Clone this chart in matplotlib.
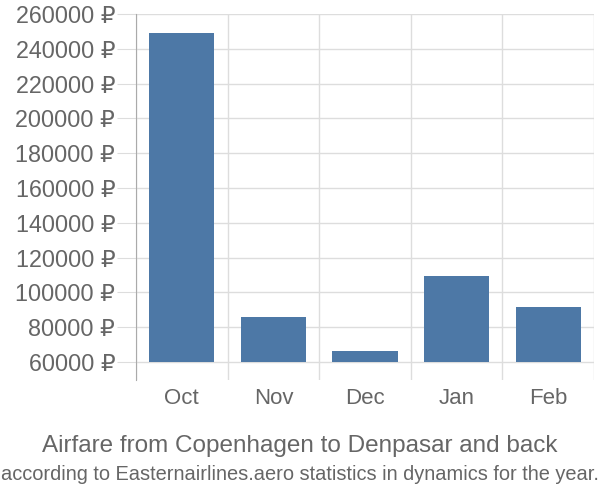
import matplotlib
matplotlib.use("Agg")
import matplotlib.pyplot as plt
from matplotlib.ticker import FixedLocator

plt.rcParams['font.family'] = ['Liberation Sans', 'DejaVu Sans']

months = ["Oct", "Nov", "Dec", "Jan", "Feb"]
prices = [248900, 85700, 66300, 109600, 91800]
yticks = [60000, 80000, 100000, 120000, 140000, 160000, 180000, 200000, 220000, 240000, 260000]
title = "Airfare from Copenhagen to Denpasar and back"
subtitle = "according to Easternairlines.aero statistics in dynamics for the year."

base = 60000
fig = plt.figure(figsize=(6, 5), dpi=100)
ax = fig.add_axes([136/600, 1-380/500, (594-136)/600, (380-14)/500])

x = list(range(len(months)))
ax.bar(x, [p - base for p in prices], bottom=base, width=0.71, color="#4d78a6", zorder=3)

ax.set_xlim(-0.5, len(months) - 0.5)
ax.set_ylim(60000 - 18/0.00174, 260000)

ax.set_yticks(yticks)
ax.set_yticklabels([f"{v} ₽" for v in yticks])
ax.set_xticks(x)
ax.set_xticklabels(months)
ax.xaxis.set_minor_locator(FixedLocator([i - 0.5 for i in range(len(months) + 1)]))

ax.grid(axis='y', which='major', color="#dddddd", linewidth=1, zorder=0)
ax.grid(axis='x', which='minor', color="#dddddd", linewidth=1, zorder=0)
ax.tick_params(axis='y', length=14, color="#dddddd", labelsize=16.8, labelcolor="#666666", pad=1)
ax.tick_params(axis='x', which='major', length=0, labelsize=16, labelcolor="#666666", pad=6)
ax.tick_params(axis='x', which='minor', length=0)

for s in ['top', 'right', 'bottom']:
    ax.spines[s].set_visible(False)
ax.spines['left'].set_color("#aaaaaa")
ax.spines['left'].set_zorder(4)

fig.text(0.5, 1-446/500, title, ha='center', va='center', fontsize=17.5, color="#666666")
fig.text(0.5, 1-475/500, subtitle, ha='center', va='center', fontsize=14.4, color="#666666")

fig.savefig("out.png", dpi=100)
